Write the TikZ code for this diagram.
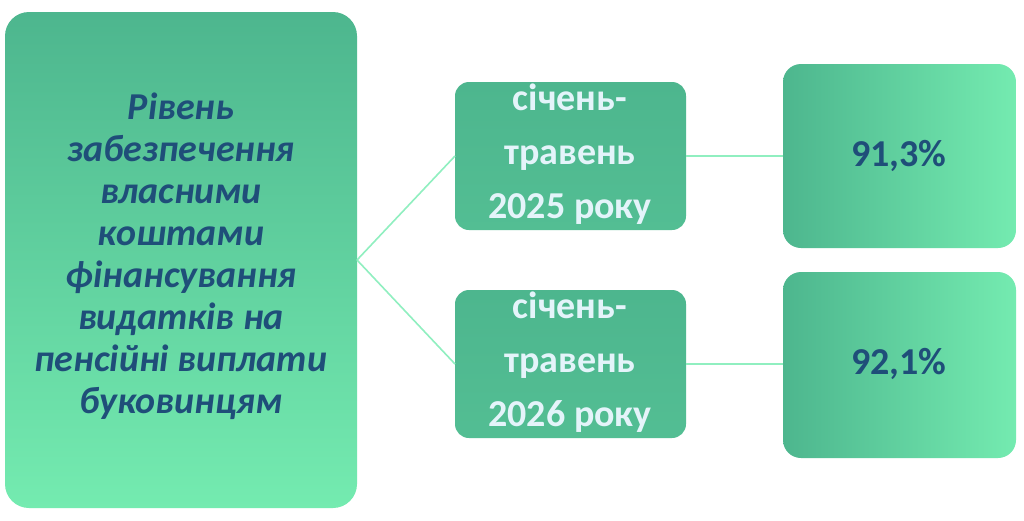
\documentclass[tikz,border=0pt]{standalone}
\usepackage{fontspec}
\setmainfont{Carlito}
\definecolor{gdark}{HTML}{4DB68E}
\definecolor{glight}{HTML}{74EBB0}
\definecolor{tblue}{HTML}{1F4E79}
\definecolor{tlight}{HTML}{E4F4FA}
\begin{document}
\begin{tikzpicture}[x=1pt,y=-1pt,
  box/.style={rounded corners=14pt,top color=gdark,bottom color=glight,draw=none},
  lnk/.style={draw=glight!80!white,line width=1.6pt}]
\useasboundingbox (0,0) rectangle (1024,520);
\fill[white] (0,0) rectangle (1024,520);
\shade[rounded corners=24pt,top color=gdark,bottom color=glight] (5,12) rectangle (357,508);
\node (L) at (181,256) [align=center,text=tblue,font=\fontsize{38}{42}\selectfont\bfseries\itshape] {Рівень\\забезпечення\\власними\\коштами\\фінансування\\видатків на\\пенсійні виплати\\буковинцям};
\coordinate (Lr) at (357,260);
\shade[box,top color=gdark,bottom color=gdark!85!glight] (455,82) rectangle (686,230);
\node (M1) at (570,154) [align=center,text=tlight,font=\fontsize{38}{54}\selectfont\bfseries] {січень-\\травень\\2025 року};
\shade[box,top color=gdark,bottom color=gdark!85!glight] (455,290) rectangle (686,438);
\node (M2) at (570,362) [align=center,text=tlight,font=\fontsize{38}{54}\selectfont\bfseries] {січень-\\травень\\2026 року};
\shade[box,shading angle=135,left color=gdark,right color=glight,rounded corners=18pt] (783,64) rectangle (1016,248);
\node (R1) at (899,156) [text=tblue,font=\fontsize{38}{40}\selectfont\bfseries] {91,3\%};
\shade[box,shading angle=135,left color=gdark,right color=glight,rounded corners=18pt] (783,272) rectangle (1016,458);
\node (R2) at (899,364) [text=tblue,font=\fontsize{38}{40}\selectfont\bfseries] {92,1\%};
\coordinate (M1l) at (455,156); \coordinate (M2l) at (455,364);
\coordinate (M1r) at (686,156); \coordinate (M2r) at (686,364);
\coordinate (R1l) at (783,156); \coordinate (R2l) at (783,364);
\draw[lnk] (Lr) -- (M1l); \draw[lnk] (Lr) -- (M2l);
\draw[lnk] (M1r) -- (R1l); \draw[lnk] (M2r) -- (R2l);
\end{tikzpicture}
\end{document}
